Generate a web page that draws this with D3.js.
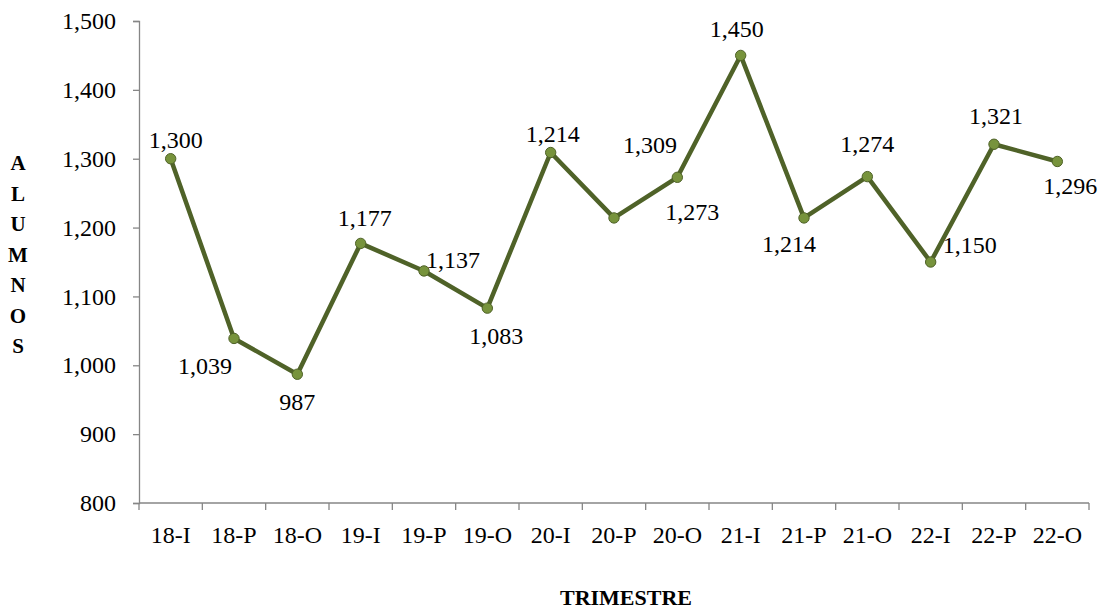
<!DOCTYPE html>
<html><head><meta charset="utf-8">
<script src="https://cdn.jsdelivr.net/npm/d3@7"></script>
<style>body{margin:0;background:#fff}svg{display:block}</style>
</head><body>
<svg id="c" width="1099" height="609"></svg>
<script>
const categories = ["18-I","18-P","18-O","19-I","19-P","19-O","20-I","20-P","20-O","21-I","21-P","21-O","22-I","22-P","22-O"];
const values = [1300,1039,987,1177,1137,1083,1309,1214,1273,1450,1214,1274,1150,1321,1296];
const labelTexts = ["1,300","1,039","987","1,177","1,137","1,083","1,214","1,309","1,273","1,450","1,214","1,274","1,150","1,321","1,296"];
const yTicks = [800,900,1000,1100,1200,1300,1400,1500];
const yTitle = "ALUMNOS";
const xTitle = "TRIMESTRE";

// label offsets relative to each point [dx, dy baseline]
const labelOffsets = [[5,-11],[-29,36],[0,36],[4,-17],[29,-3],[9,36],[2,-11],[36,-65],[15,43],[-4,-18],[-15,34],[0,-25],[39,-9],[2,-20],[13,33]];

const font = "'Liberation Serif', 'Times New Roman', serif";
const svg = d3.select("#c");
const mLeft = 139, mRight = 1089, mTop = 21, mBottom = 503;

const x = d3.scaleBand().domain(categories).range([mLeft, mRight]);
const y = d3.scaleLinear().domain([800,1500]).range([mBottom, mTop]);
const axisColor = "#868686";

// y axis
const ya = svg.append("g").attr("transform", `translate(${mLeft},0)`)
  .call(d3.axisLeft(y).tickValues(yTicks).tickSize(6).tickPadding(17).tickFormat(d3.format(",")));
ya.select(".domain").attr("stroke", axisColor).attr("stroke-width",1.3);
ya.selectAll(".tick line").attr("stroke", axisColor).attr("stroke-width",1.3);
ya.selectAll(".tick text").attr("font-family", font).attr("font-size", 24).attr("fill","#000");

// x axis
const xa = svg.append("g").attr("transform", `translate(0,${mBottom})`)
  .call(d3.axisBottom(x).tickSize(0).tickPadding(23));
xa.select(".domain").attr("stroke", axisColor).attr("stroke-width",1.3).attr("d", `M${mLeft},0H${mRight}`);
xa.selectAll(".tick text").attr("font-family", font).attr("font-size", 24).attr("fill","#000").attr("dy","0.71em");
const edges = categories.map(c => x(c)).concat([mRight]);
svg.append("g").selectAll("line").data(edges).join("line")
  .attr("x1", d=>d).attr("x2", d=>d).attr("y1", mBottom).attr("y2", mBottom+7)
  .attr("stroke", axisColor).attr("stroke-width",1.3);

// line
const cx = (d,i) => x(categories[i]) + x.bandwidth()/2;
const line = d3.line().x((d,i)=>cx(d,i)).y(d=>y(d));
svg.append("path").datum(values).attr("d", line)
  .attr("fill","none").attr("stroke","#4f6228").attr("stroke-width",4.5).attr("stroke-linejoin","round");

svg.append("g").selectAll("circle").data(values).join("circle")
  .attr("cx", (d,i)=>cx(d,i)).attr("cy", d=>y(d)).attr("r", 5.2)
  .attr("fill","#77933c").attr("stroke","#4f6228").attr("stroke-width",1);

// labels
svg.append("g").selectAll("text").data(labelTexts).join("text")
  .attr("x", (d,i)=>cx(values[i],i) + labelOffsets[i][0])
  .attr("y", (d,i)=>y(values[i]) + labelOffsets[i][1])
  .attr("text-anchor","middle").attr("font-family", font).attr("font-size", 24).attr("fill","#000")
  .text(d=>d);

// y title stacked
svg.append("g").selectAll("text").data(yTitle.split("")).join("text")
  .attr("x", 18).attr("y", (d,i)=>170 + i*30.5)
  .attr("text-anchor","middle").attr("font-family", font).attr("font-weight","bold").attr("font-size", 21)
  .text(d=>d);

svg.append("text").attr("x", 626).attr("y", 605)
  .attr("text-anchor","middle").attr("font-family", font).attr("font-weight","bold").attr("font-size", 22)
  .text(xTitle);
</script>
</body></html>
